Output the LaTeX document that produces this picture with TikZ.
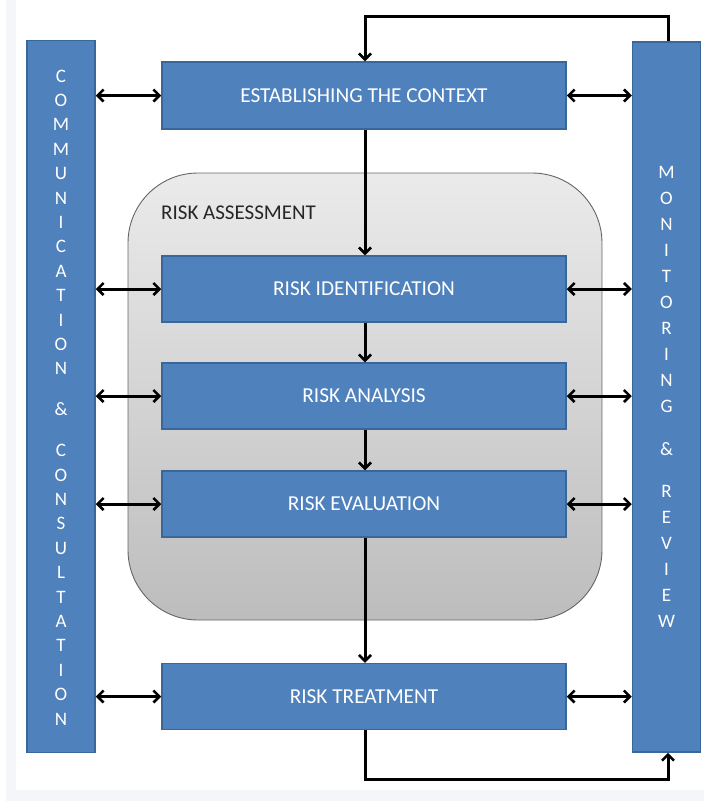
\documentclass[tikz,border=0pt]{standalone}
\usepackage{fontspec}
\setmainfont{Carlito}
\usetikzlibrary{arrows.meta}
\definecolor{boxblue}{HTML}{4F81BD}
\definecolor{boxedge}{HTML}{3A679A}
\definecolor{edgegray}{HTML}{F4F6F9}
\begin{document}
\begin{tikzpicture}[x=1pt,y=-1pt,
  bluebox/.style={draw=boxedge,line width=1.5pt,fill=boxblue,text=white,inner sep=0pt,
    font=\fontsize{21.3}{25}\selectfont},
  stepbox/.style={bluebox,minimum width=404pt,minimum height=66pt},
  colbox/.style={bluebox,minimum width=68pt,align=center},
  tip/.tip={Straight Barb[length=6pt,width=12pt,line width=2.6pt]},
  conn/.style={line width=3pt,-tip},
  biconn/.style={line width=3pt,tip-tip},
  loopline/.style={line width=3pt,line join=miter}]
\useasboundingbox (0,0) rectangle (704,801);
\fill[white] (0,0) rectangle (704,801);
\fill[edgegray] (6,0) rectangle (16,790);
\fill[edgegray] (6,790) rectangle (704,801);

% risk assessment region
\node[draw=black!60,line width=0.9pt,rounded corners=70pt,top color=black!8,bottom color=black!26,
  minimum width=474pt,minimum height=447pt,inner sep=0pt] (ra) at (365,396.5) {};
\node[anchor=west,text=black!85,font=\fontsize{21}{25}\selectfont,inner sep=0pt] (ralabel) at (161,213) {RISK ASSESSMENT};

% side columns
\node[colbox,minimum height=712pt] (comm) at (61,396.5) {};
\node[text=white,align=center,inner sep=0pt,font=\fontsize{19}{24.4}\selectfont] (commtext) at (61,397.5)
  {C\\O\\M\\M\\U\\N\\I\\C\\A\\T\\I\\O\\N\\[16.5pt]\&\\[16.5pt]C\\O\\N\\S\\U\\L\\T\\A\\T\\I\\O\\N};
\node[colbox,minimum height=710pt] (mon) at (666.5,397) {};
\node[text=white,align=center,inner sep=0pt,font=\fontsize{19}{26}\selectfont] (montext) at (666.5,397)
  {M\\O\\N\\I\\T\\O\\R\\I\\N\\G\\[16.5pt]\&\\[16.5pt]R\\E\\V\\I\\E\\W};

% process boxes
\node[stepbox,minimum height=67pt] (ctx) at (364,95.5) {ESTABLISHING THE CONTEXT};
\node[stepbox] (rid) at (364,289) {RISK IDENTIFICATION};
\node[stepbox] (ran) at (364,396) {RISK ANALYSIS};
\node[stepbox] (rev) at (364,504) {RISK EVALUATION};
\node[stepbox] (rtr) at (364,696.5) {RISK TREATMENT};

% vertical flow
\draw[conn] (ctx.south -| 365,0) -- (rid.north -| 365,0);
\draw[conn] (rid.south -| 365,0) -- (ran.north -| 365,0);
\draw[conn] (ran.south -| 365,0) -- (rev.north -| 365,0);
\draw[conn] (rev.south -| 365,0) -- (rtr.north -| 365,0);

% horizontal links
\foreach \n in {ctx,rid,ran,rev,rtr}{
  \draw[biconn] (comm.east |- \n.west) -- (\n.west);
  \draw[biconn] (\n.east) -- (mon.west |- \n.east);
}

% feedback loops
\coordinate (tl) at (365,16);
\coordinate (tr) at (668,16);
\coordinate (bl) at (365,779);
\coordinate (br) at (668,779);
\draw[loopline,-tip] (mon.north -| tr) -- (tr) -- (tl) -- (ctx.north -| tl);
\draw[loopline,-tip] (rtr.south -| bl) -- (bl) -- (br) -- (mon.south -| br);
\end{tikzpicture}
\end{document}
